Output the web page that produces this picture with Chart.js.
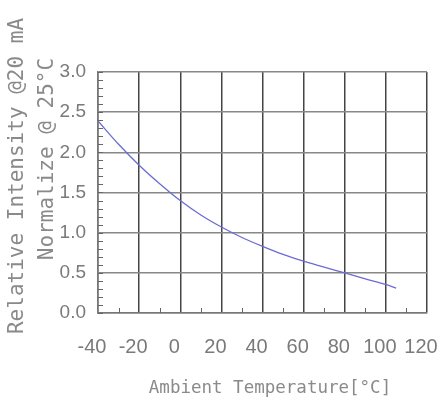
<!DOCTYPE html>
<html>
<head>
<meta charset="utf-8">
<script src="https://cdn.jsdelivr.net/npm/chart.js@4"></script>
<style>
  html, body { margin: 0; padding: 0; background: #fff; }
  canvas { display: block; }
</style>
</head>
<body>
<canvas id="chart" width="444" height="404"></canvas>
<script>
/* ------------------------------------------------ */

// values
const temps = [-40, -30, -20, -10, 0, 10, 20, 30, 40, 50, 60, 70, 80, 90, 100, 105];
const intensity = [2.39, 2.10, 1.84, 1.61, 1.40, 1.22, 1.07, 0.94, 0.83, 0.73, 0.645, 0.57, 0.50, 0.425, 0.355, 0.31];

const xTicks = [-40, -20, 0, 20, 40, 60, 80, 100, 120];
const yTicks = [0.0, 0.5, 1.0, 1.5, 2.0, 2.5, 3.0];

const yTitleLines = ['Relative Intensity @20 mA', 'Normalize @ 25°C'];
const xTitle = 'Ambient Temperature[°C]';

/* ------------------------------------------------ */

const tickFont = "'Liberation Sans', Arial, sans-serif";
const titleFont = "'DejaVu Sans Mono', monospace";

// small inward ticks and the hand-placed axis titles
const extrasPlugin = {
  id: 'extras',
  afterDraw(chart) {
    let ctx = chart.ctx;
    let xs = chart.scales.x;
    let ys = chart.scales.y;
    let area = chart.chartArea;

    ctx.save();
    ctx.strokeStyle = '#666';
    ctx.lineWidth = 1;
    ctx.beginPath();
    for (let v = 0; v <= 3.0001; v += 0.1) {
      let y = Math.round(ys.getPixelForValue(v)) + 0.5;
      ctx.moveTo(area.left, y);
      ctx.lineTo(area.left + 5, y);
    }
    for (let v = -30; v <= 110; v += 20) {
      let x = Math.round(xs.getPixelForValue(v)) + 0.5;
      ctx.moveTo(x, area.bottom);
      ctx.lineTo(x, area.bottom - 5);
    }
    ctx.stroke();

    ctx.fillStyle = '#8a8a8a';
    ctx.textAlign = 'center';
    ctx.textBaseline = 'middle';

    ctx.font = '17.5px ' + titleFont;
    ctx.fillText(xTitle, 270, 388);

    ctx.font = '21px ' + titleFont;
    ctx.translate(18, 176);
    ctx.rotate(-Math.PI / 2);
    ctx.fillText(yTitleLines[0], 0, 0);
    ctx.rotate(Math.PI / 2);
    ctx.translate(30, -17);
    ctx.rotate(-Math.PI / 2);
    ctx.fillText(yTitleLines[1], 0, 0);
    ctx.restore();
  }
};

function generateChart() {
  let ctx = document.getElementById('chart').getContext('2d');
  let points = temps.map((t, i) => ({ x: t, y: intensity[i] }));

  return new Chart(ctx, {
    type: 'scatter',
    data: {
      datasets: [{
        data: points,
        showLine: true,
        borderColor: '#6b6bd6',
        borderWidth: 1.3,
        pointRadius: 0,
        cubicInterpolationMode: 'monotone',
      }],
    },
    options: {
      responsive: false,
      animation: false,
      layout: { padding: { top: 72, right: 17, left: 0, bottom: 0 } },
      plugins: {
        legend: { display: false },
        tooltip: { enabled: false },
      },
      scales: {
        x: {
          type: 'linear',
          min: -40,
          max: 120,
          afterBuildTicks: (scale) => { scale.ticks = xTicks.map((v) => ({ value: v })); },
          afterFit: (scale) => {
            scale.height = 91;
            scale.paddingLeft = 0;
            scale.paddingRight = 0;
          },
          grid: { color: '#444', lineWidth: 1.5, drawTicks: false },
          border: { color: '#777', width: 1.5 },
          ticks: {
            padding: 22,
            labelOffset: -6,
            color: '#7a7a7a',
            font: { family: tickFont, size: 20 },
            autoSkip: false,
            maxRotation: 0,
            minRotation: 0,
          },
        },
        y: {
          min: 0,
          max: 3,
          afterBuildTicks: (scale) => { scale.ticks = yTicks.map((v) => ({ value: v })); },
          afterFit: (scale) => {
            scale.width = 98;
            scale.paddingTop = 0;
            scale.paddingBottom = 0;
          },
          grid: { color: '#888', lineWidth: 1.5, drawTicks: false },
          border: { color: '#777', width: 1.5 },
          ticks: {
            padding: 12,
            color: '#7a7a7a',
            font: { family: tickFont, size: 19 },
            callback: (v) => Number(v).toFixed(1),
          },
        },
      },
    },
    plugins: [extrasPlugin],
  });
}

let chart = generateChart();
</script>
</body>
</html>
